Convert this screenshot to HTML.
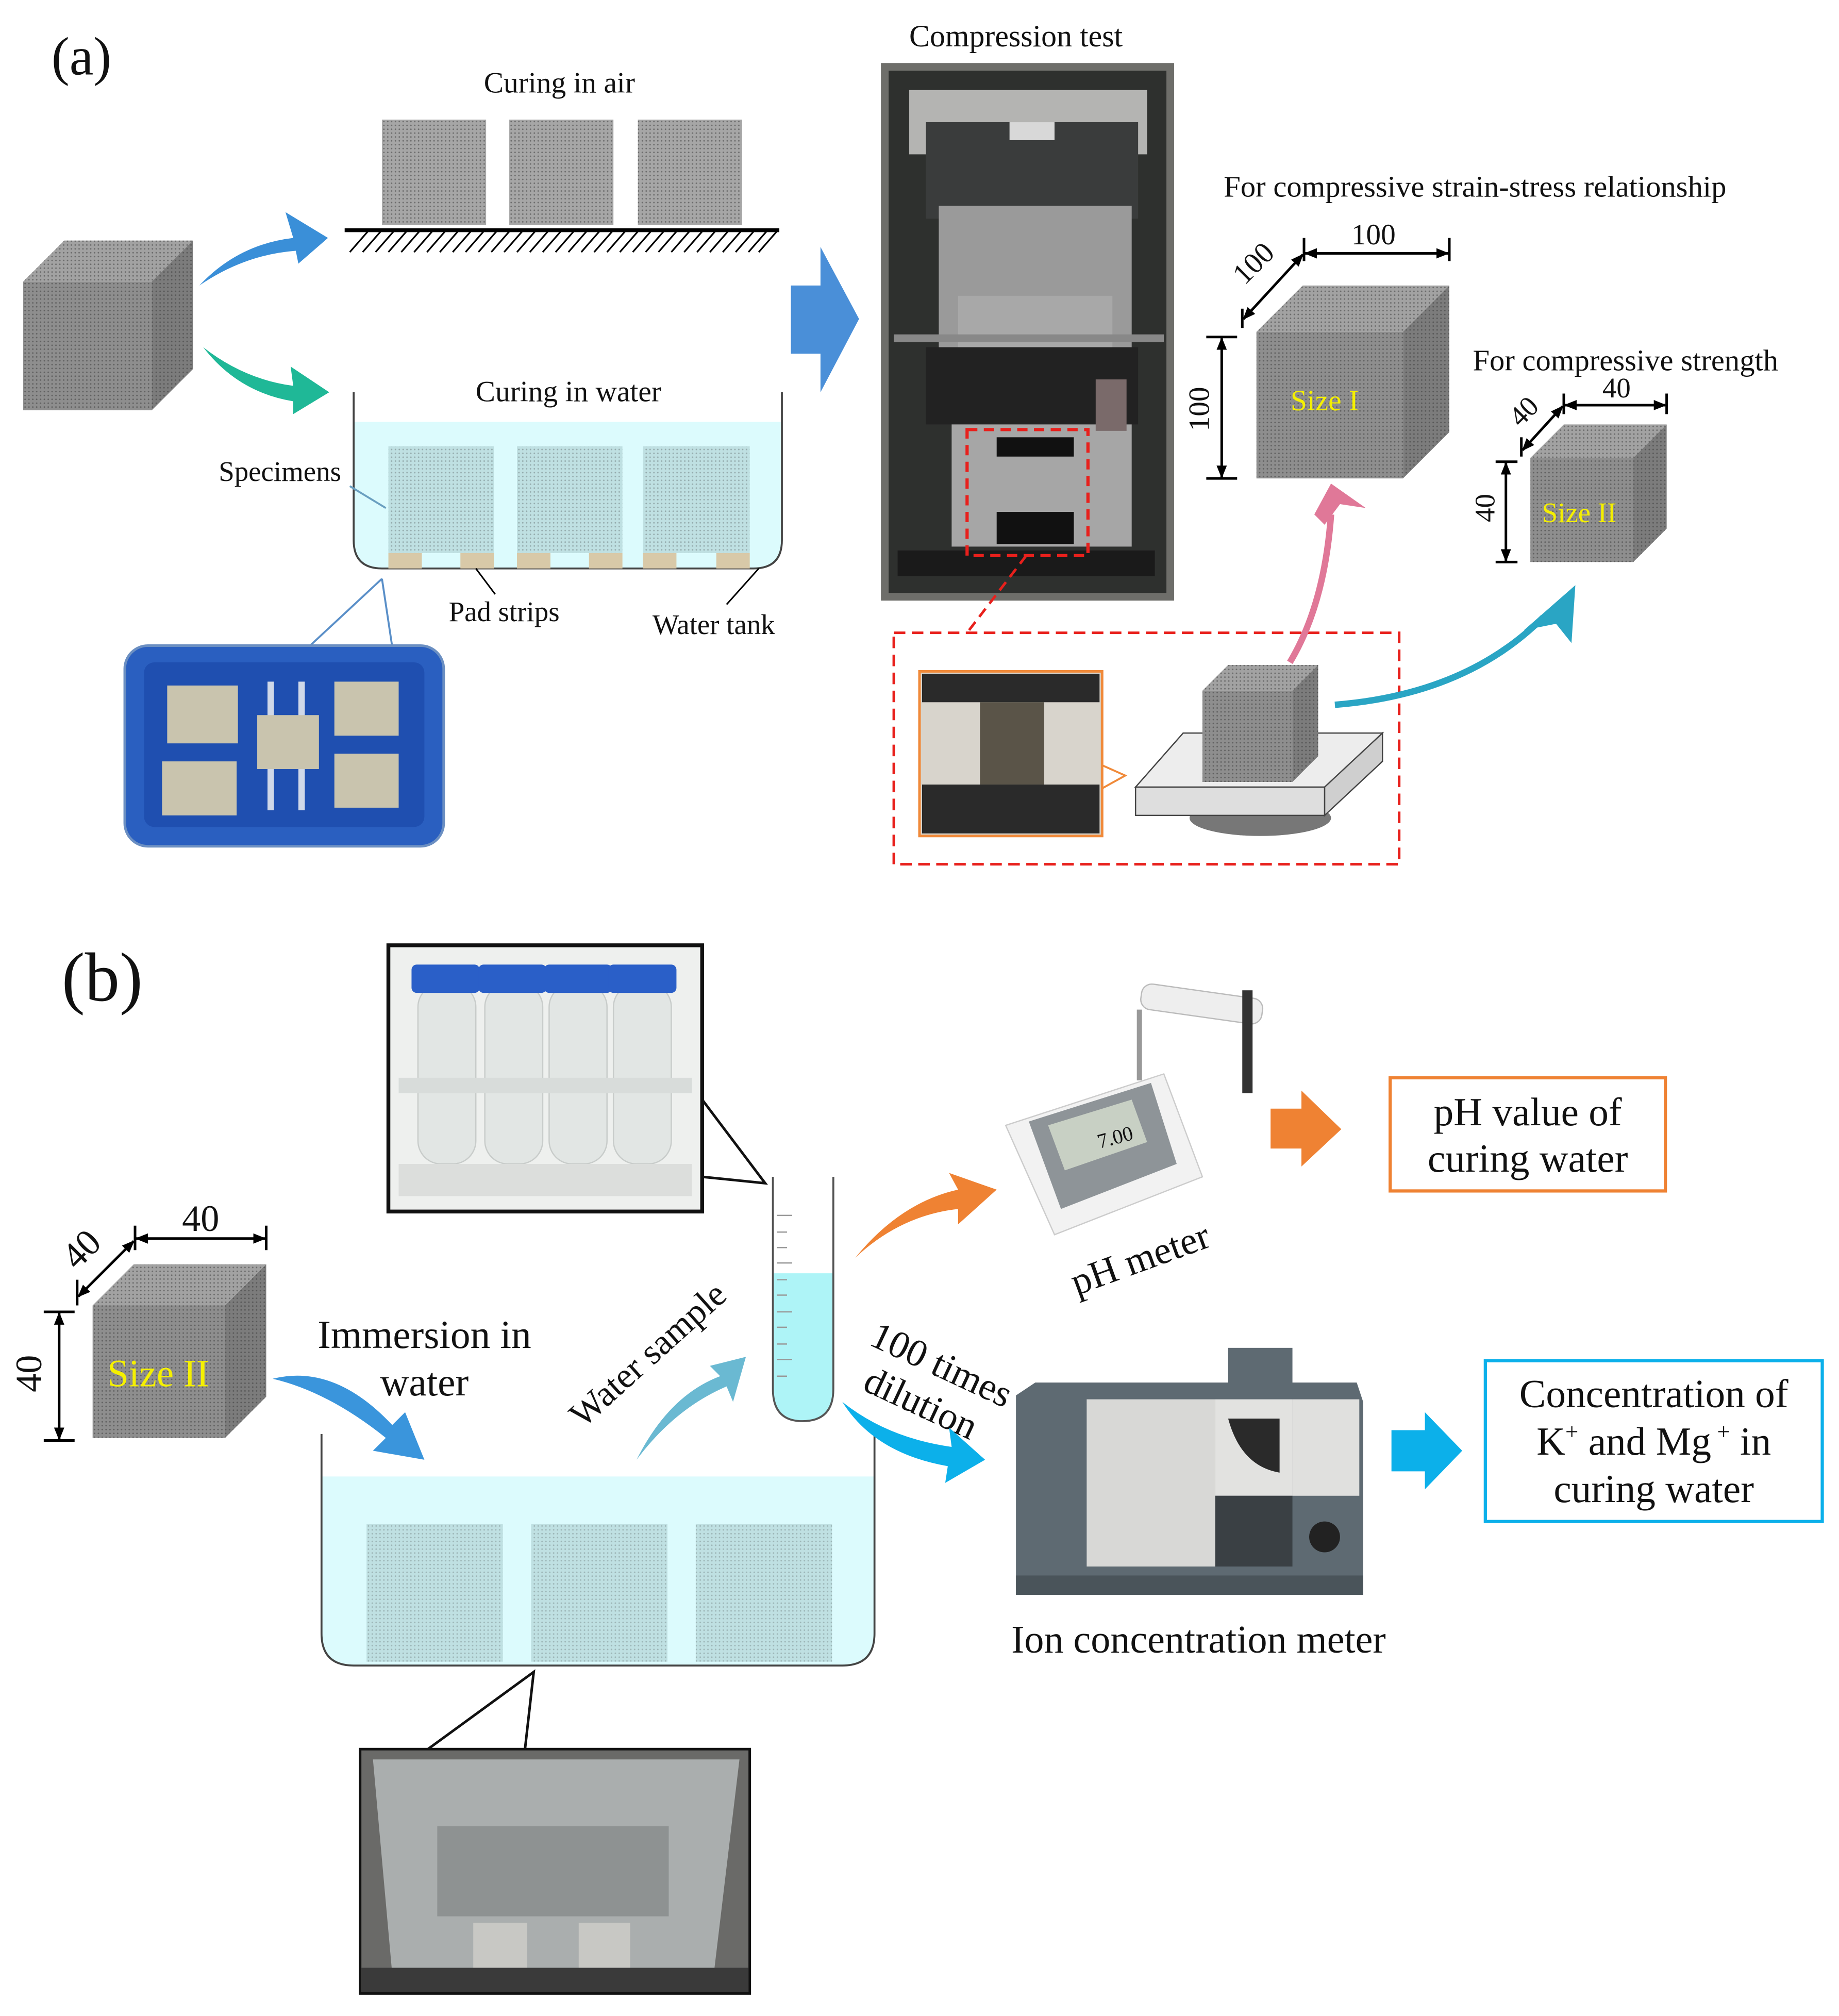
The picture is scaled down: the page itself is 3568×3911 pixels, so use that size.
<!DOCTYPE html>
<html><head><meta charset="utf-8"><style>
html,body{margin:0;padding:0;background:#fff}
svg{display:block}
text{font-family:"Liberation Serif",serif;fill:#111}
</style></head><body>
<svg width="3568" height="3911" viewBox="0 0 1430 1567.5" xmlns="http://www.w3.org/2000/svg" font-family="Liberation Serif, serif">
<defs>
<pattern id="dots" width="3" height="3" patternUnits="userSpaceOnUse"><rect width="3" height="3" fill="none"/><circle cx="1.5" cy="1.5" r="0.6" fill="#333" opacity="0.5"/></pattern>
<marker id="ah" markerWidth="10" markerHeight="10" refX="9" refY="5" orient="auto-start-reverse" markerUnits="userSpaceOnUse"><path d="M0,1 L10,5 L0,9 Z" fill="#000"/></marker>
</defs>

<text x="40" y="58" font-size="42">(a)</text>

<!-- left cube -->
<g>
<polygon points="18,219 50,187 150,187 118,219" fill="#a2a2a2"/>
<polygon points="118,219 150,187 150,287 118,319" fill="#7c7c7c"/>
<rect x="18" y="219" width="100" height="100" fill="#8e8e8e"/>
<polygon points="18,219 50,187 150,187 150,287 118,319 18,319" fill="url(#dots)"/>
</g>

<path d="M155,222 Q185,190 228,185 L222,165 L255,185 L232,205 L230,195 Q190,198 155,222 Z" fill="#3a8fd8"/>
<path d="M158,270 Q190,295 228,300 L226,285 L256,305 L228,322 L228,312 Q185,305 158,270 Z" fill="#1fb897"/>

<text x="435" y="72" font-size="23" text-anchor="middle">Curing in air</text>
<rect x="297" y="93" width="81" height="82" fill="#a6a6a6"/><rect x="297" y="93" width="81" height="82" fill="url(#dots)"/>
<rect x="396" y="93" width="81" height="82" fill="#a6a6a6"/><rect x="396" y="93" width="81" height="82" fill="url(#dots)"/>
<rect x="496" y="93" width="81" height="82" fill="#a6a6a6"/><rect x="496" y="93" width="81" height="82" fill="url(#dots)"/>
<line x1="268" y1="179" x2="606" y2="179" stroke="#000" stroke-width="3"/>
<g stroke="#000" stroke-width="1.3">
<path d="M272,196 l14,-16 M282,196 l14,-16 M292,196 l14,-16 M302,196 l14,-16 M312,196 l14,-16 M322,196 l14,-16 M332,196 l14,-16 M342,196 l14,-16 M352,196 l14,-16 M362,196 l14,-16 M372,196 l14,-16 M382,196 l14,-16 M392,196 l14,-16 M402,196 l14,-16 M412,196 l14,-16 M422,196 l14,-16 M432,196 l14,-16 M442,196 l14,-16 M452,196 l14,-16 M462,196 l14,-16 M472,196 l14,-16 M482,196 l14,-16 M492,196 l14,-16 M502,196 l14,-16 M512,196 l14,-16 M522,196 l14,-16 M532,196 l14,-16 M542,196 l14,-16 M552,196 l14,-16 M562,196 l14,-16 M572,196 l14,-16 M582,196 l14,-16 M590,196 l14,-16"/>
</g>

<text x="442" y="312" font-size="23" text-anchor="middle">Curing in water</text>
<path d="M275,328 L608,328 L608,420 Q608,442 586,442 L297,442 Q275,442 275,420 Z" fill="#dcfbfd"/>
<path d="M275,305 L275,420 Q275,442 297,442 L586,442 Q608,442 608,420 L608,305" fill="none" stroke="#444" stroke-width="1.5"/>
<rect x="302" y="347" width="82" height="83" fill="#bfe0e2"/><rect x="302" y="347" width="82" height="83" fill="url(#dots)" opacity="0.6"/>
<rect x="402" y="347" width="82" height="83" fill="#bfe0e2"/><rect x="402" y="347" width="82" height="83" fill="url(#dots)" opacity="0.6"/>
<rect x="500" y="347" width="83" height="83" fill="#bfe0e2"/><rect x="500" y="347" width="83" height="83" fill="url(#dots)" opacity="0.6"/>
<g fill="#d8c9a8"><rect x="302" y="430" width="26" height="12"/><rect x="358" y="430" width="26" height="12"/><rect x="402" y="430" width="26" height="12"/><rect x="458" y="430" width="26" height="12"/><rect x="500" y="430" width="26" height="12"/><rect x="557" y="430" width="26" height="12"/></g>
<text x="170" y="374" font-size="22">Specimens</text>
<line x1="272" y1="378" x2="300" y2="395" stroke="#6a9fc0" stroke-width="1.5"/>
<line x1="370" y1="442" x2="385" y2="462" stroke="#000" stroke-width="1.2"/>
<text x="392" y="483" font-size="22" text-anchor="middle">Pad strips</text>
<line x1="590" y1="442" x2="565" y2="470" stroke="#000" stroke-width="1.2"/>
<text x="555" y="493" font-size="22" text-anchor="middle">Water tank</text>

<line x1="240" y1="503" x2="297" y2="450" stroke="#5a8fc8" stroke-width="1.5"/>
<line x1="305" y1="503" x2="297" y2="450" stroke="#5a8fc8" stroke-width="1.5"/>
<rect x="97" y="502" width="248" height="156" rx="18" fill="#2a5fc0" stroke="#6b8fc2" stroke-width="2"/>
<rect x="112" y="515" width="218" height="128" rx="8" fill="#1f4fb0"/>
<rect x="208" y="530" width="5" height="100" fill="#cfd8e8"/><rect x="232" y="530" width="5" height="100" fill="#cfd8e8"/>
<g fill="#c9c4ae"><rect x="130" y="533" width="55" height="45"/><rect x="200" y="556" width="48" height="42"/><rect x="260" y="530" width="50" height="42"/><rect x="126" y="592" width="58" height="42"/><rect x="260" y="586" width="50" height="42"/></g>

<polygon points="615,222 638,222 638,192 668,248 638,305 638,275 615,275" fill="#4a8fd8"/>

<text x="790" y="36" font-size="24" text-anchor="middle">Compression test</text>
<rect x="688" y="52" width="222" height="412" fill="#2e302e"/>
<rect x="688" y="52" width="222" height="412" fill="none" stroke="#6e6e6a" stroke-width="6"/>
<rect x="707" y="70" width="185" height="50" fill="#b4b4b2"/>
<rect x="720" y="95" width="165" height="75" fill="#3a3c3c"/>
<rect x="785" y="95" width="35" height="14" fill="#d8d8d8"/>
<rect x="730" y="160" width="150" height="110" fill="#9a9a9a"/>
<rect x="745" y="230" width="120" height="40" fill="#a8a8a8"/>
<rect x="695" y="260" width="210" height="6" fill="#888"/>
<rect x="720" y="270" width="165" height="60" fill="#222"/>
<rect x="740" y="330" width="140" height="95" fill="#a6a6a6"/>
<rect x="775" y="340" width="60" height="15" fill="#111"/>
<rect x="775" y="398" width="60" height="25" fill="#111"/>
<rect x="852" y="295" width="24" height="40" fill="#7a6a6a"/>
<rect x="698" y="428" width="200" height="20" fill="#1a1a1a"/>
<rect x="752" y="334" width="94" height="98" fill="none" stroke="#e8201c" stroke-width="2.5" stroke-dasharray="8,5"/>
<line x1="798" y1="432" x2="752" y2="492" stroke="#e8201c" stroke-width="2" stroke-dasharray="8,5"/>
<rect x="695" y="492" width="393" height="180" fill="none" stroke="#e8201c" stroke-width="2" stroke-dasharray="9,5"/>

<rect x="715" y="522" width="142" height="128" fill="#d8d4cc" stroke="#f08a3a" stroke-width="2"/>
<rect x="717" y="524" width="138" height="22" fill="#2a2a2a"/>
<rect x="717" y="610" width="138" height="38" fill="#2a2a2a"/>
<rect x="762" y="546" width="50" height="64" fill="#5a5448"/>
<polyline points="857,595 875,603 857,613" fill="none" stroke="#f08a3a" stroke-width="1.5"/>

<ellipse cx="980" cy="636" rx="55" ry="14" fill="#777"/>
<polygon points="883,612 920,570 1075,570 1030,612" fill="#ededed" stroke="#444" stroke-width="1"/>
<polygon points="1030,612 1075,570 1075,592 1030,634" fill="#cfcfcf" stroke="#444" stroke-width="1"/>
<rect x="883" y="612" width="147" height="22" fill="#dedede" stroke="#444" stroke-width="1"/>
<polygon points="935,537 955,517 1025,517 1005,537" fill="#a2a2a2"/>
<polygon points="1005,537 1025,517 1025,588 1005,608" fill="#7c7c7c"/>
<rect x="935" y="537" width="70" height="71" fill="#8e8e8e"/>
<polygon points="935,537 955,517 1025,517 1025,588 1005,608 935,608" fill="url(#dots)"/>

<path d="M1003,515 Q1030,470 1035,400" fill="none" stroke="#e07898" stroke-width="5"/>
<polygon points="1035,376 1062,395 1042,392 1030,408 1022,400" fill="#e07898"/>
<path d="M1038,548 Q1140,540 1200,480" fill="none" stroke="#2aa5c4" stroke-width="5"/>
<polygon points="1225,455 1222,500 1210,485 1185,490" fill="#2aa5c4"/>

<text x="1147" y="153" font-size="23.5" text-anchor="middle">For compressive strain-stress relationship</text>
<polygon points="977,258 1013,222 1127,222 1091,258" fill="#a2a2a2"/>
<polygon points="1091,258 1127,222 1127,336 1091,372" fill="#7c7c7c"/>
<rect x="977" y="258" width="114" height="114" fill="#8e8e8e"/>
<polygon points="977,258 1013,222 1127,222 1127,336 1091,372 977,372" fill="url(#dots)"/>
<text x="1030" y="319" font-size="23" text-anchor="middle" style="fill:#f5f000">Size I</text>
<line x1="1014" y1="185" x2="1014" y2="203" stroke="#000" stroke-width="2"/>
<line x1="1127" y1="185" x2="1127" y2="203" stroke="#000" stroke-width="2"/>
<line x1="1015" y1="197" x2="1126" y2="197" stroke="#000" stroke-width="2" marker-start="url(#ah)" marker-end="url(#ah)"/>
<text x="1068" y="190" font-size="23" text-anchor="middle">100</text>
<line x1="966" y1="240" x2="966" y2="255" stroke="#000" stroke-width="2"/>
<line x1="1013" y1="198" x2="967" y2="248" stroke="#000" stroke-width="2" marker-start="url(#ah)" marker-end="url(#ah)"/>
<text x="980" y="210" font-size="23" text-anchor="middle" transform="rotate(-45 980 210)">100</text>
<line x1="938" y1="262" x2="962" y2="262" stroke="#000" stroke-width="2"/>
<line x1="938" y1="372" x2="962" y2="372" stroke="#000" stroke-width="2"/>
<line x1="950" y1="263" x2="950" y2="371" stroke="#000" stroke-width="2" marker-start="url(#ah)" marker-end="url(#ah)"/>
<text x="940" y="318" font-size="23" text-anchor="middle" transform="rotate(-90 940 318)">100</text>

<text x="1264" y="288" font-size="23.5" text-anchor="middle">For compressive strength</text>
<polygon points="1190,356 1216,330 1296,330 1270,356" fill="#a2a2a2"/>
<polygon points="1270,356 1296,330 1296,411 1270,437" fill="#7c7c7c"/>
<rect x="1190" y="356" width="80" height="81" fill="#8e8e8e"/>
<polygon points="1190,356 1216,330 1296,330 1296,411 1270,437 1190,437" fill="url(#dots)"/>
<text x="1228" y="406" font-size="22" text-anchor="middle" style="fill:#f5f000">Size II</text>
<line x1="1216" y1="306" x2="1216" y2="322" stroke="#000" stroke-width="2"/>
<line x1="1296" y1="306" x2="1296" y2="322" stroke="#000" stroke-width="2"/>
<line x1="1217" y1="315" x2="1295" y2="315" stroke="#000" stroke-width="2" marker-start="url(#ah)" marker-end="url(#ah)"/>
<text x="1257" y="309" font-size="22" text-anchor="middle">40</text>
<line x1="1183" y1="340" x2="1183" y2="355" stroke="#000" stroke-width="2"/>
<line x1="1215" y1="316" x2="1184" y2="350" stroke="#000" stroke-width="2" marker-start="url(#ah)" marker-end="url(#ah)"/>
<text x="1190" y="325" font-size="22" text-anchor="middle" transform="rotate(-45 1190 325)">40</text>
<line x1="1163" y1="359" x2="1180" y2="359" stroke="#000" stroke-width="2"/>
<line x1="1163" y1="437" x2="1180" y2="437" stroke="#000" stroke-width="2"/>
<line x1="1171" y1="360" x2="1171" y2="436" stroke="#000" stroke-width="2" marker-start="url(#ah)" marker-end="url(#ah)"/>
<text x="1162" y="395" font-size="22" text-anchor="middle" transform="rotate(-90 1162 395)">40</text>

<text x="48" y="778" font-size="54">(b)</text>

<rect x="302" y="735" width="244" height="207" fill="#eef0ee" stroke="#111" stroke-width="3"/>
<g fill="#e2e6e4" stroke="#c8ccca">
<rect x="325" y="765" width="45" height="140" rx="18"/><rect x="377" y="765" width="45" height="140" rx="18"/><rect x="427" y="765" width="45" height="140" rx="18"/><rect x="477" y="765" width="45" height="140" rx="18"/></g>
<g fill="#2a5fc8"><rect x="320" y="750" width="53" height="22" rx="4"/><rect x="372" y="750" width="53" height="22" rx="4"/><rect x="423" y="750" width="53" height="22" rx="4"/><rect x="473" y="750" width="53" height="22" rx="4"/></g>
<rect x="310" y="838" width="228" height="12" fill="#d8dcda"/>
<rect x="310" y="905" width="228" height="25" fill="#dcdedc"/>
<polyline points="546,855 595,920 546,915" fill="none" stroke="#111" stroke-width="2"/>

<path d="M601,990 L648,990 L648,1080 Q648,1105 624,1105 Q601,1105 601,1080 Z" fill="#aef4f7"/>
<path d="M601,915 L601,1080 Q601,1105 624,1105 Q648,1105 648,1080 L648,915" fill="none" stroke="#555" stroke-width="1.5"/>
<g stroke="#999" stroke-width="1"><path d="M604,945h12 M604,958h8 M604,970h8 M604,982h12 M604,995h8 M604,1007h8 M604,1020h12 M604,1032h8 M604,1045h8 M604,1057h12 M604,1070h8"/></g>

<polygon points="72,1015 104,983 207,983 175,1015" fill="#a2a2a2"/>
<polygon points="175,1015 207,983 207,1086 175,1118" fill="#7c7c7c"/>
<rect x="72" y="1015" width="103" height="103" fill="#8e8e8e"/>
<polygon points="72,1015 104,983 207,983 207,1086 175,1118 72,1118" fill="url(#dots)"/>
<text x="123" y="1078" font-size="30" text-anchor="middle" style="fill:#f5f000">Size II</text>
<line x1="105" y1="953" x2="105" y2="972" stroke="#000" stroke-width="2"/>
<line x1="207" y1="953" x2="207" y2="972" stroke="#000" stroke-width="2"/>
<line x1="106" y1="963" x2="206" y2="963" stroke="#000" stroke-width="2" marker-start="url(#ah)" marker-end="url(#ah)"/>
<text x="156" y="957" font-size="29" text-anchor="middle">40</text>
<line x1="60" y1="995" x2="60" y2="1015" stroke="#000" stroke-width="2"/>
<line x1="104" y1="965" x2="61" y2="1008" stroke="#000" stroke-width="2" marker-start="url(#ah)" marker-end="url(#ah)"/>
<text x="70" y="978" font-size="29" text-anchor="middle" transform="rotate(-45 70 978)">40</text>
<line x1="34" y1="1020" x2="58" y2="1020" stroke="#000" stroke-width="2"/>
<line x1="34" y1="1120" x2="58" y2="1120" stroke="#000" stroke-width="2"/>
<line x1="46" y1="1021" x2="46" y2="1119" stroke="#000" stroke-width="2" marker-start="url(#ah)" marker-end="url(#ah)"/>
<text x="32" y="1068" font-size="29" text-anchor="middle" transform="rotate(-90 32 1068)">40</text>

<text x="330" y="1048" font-size="31" text-anchor="middle">Immersion in</text>
<text x="330" y="1085" font-size="31" text-anchor="middle">water</text>
<path d="M212,1072 Q260,1060 305,1108 L315,1098 L330,1135 L290,1128 L300,1118 Q255,1082 212,1072 Z" fill="#3a95dc"/>

<path d="M250,1148 L680,1148 L680,1270 Q680,1295 655,1295 L275,1295 Q250,1295 250,1270 Z" fill="#dcfbfd"/>
<path d="M250,1115 L250,1270 Q250,1295 275,1295 L655,1295 Q680,1295 680,1270 L680,1115" fill="none" stroke="#444" stroke-width="1.5"/>
<rect x="285" y="1185" width="106" height="107" fill="#bfe0e2"/><rect x="285" y="1185" width="106" height="107" fill="url(#dots)" opacity="0.5"/>
<rect x="413" y="1185" width="106" height="107" fill="#bfe0e2"/><rect x="413" y="1185" width="106" height="107" fill="url(#dots)" opacity="0.5"/>
<rect x="541" y="1185" width="106" height="107" fill="#bfe0e2"/><rect x="541" y="1185" width="106" height="107" fill="url(#dots)" opacity="0.5"/>

<text x="510" y="1060" font-size="28" text-anchor="middle" transform="rotate(-42 510 1060)">Water sample</text>
<path d="M495,1135 Q520,1085 560,1070 L552,1062 L580,1055 L570,1090 L565,1078 Q525,1095 495,1135 Z" fill="#6ab9d2"/>

<polyline points="330,1362 415,1300 408,1362" fill="none" stroke="#111" stroke-width="2"/>
<rect x="280" y="1360" width="303" height="190" fill="#6a6a68" stroke="#111" stroke-width="2"/>
<path d="M290,1368 L575,1368 L555,1535 L305,1535 Z" fill="#aaaeae"/>
<rect x="340" y="1420" width="180" height="70" fill="#8e9292"/>
<rect x="368" y="1495" width="42" height="48" fill="#c8c8c4"/>
<rect x="450" y="1495" width="40" height="48" fill="#c8c8c4"/>
<rect x="281" y="1530" width="301" height="19" fill="#3a3a3a"/>

<path d="M665,978 Q700,935 745,925 L738,912 L775,925 L745,952 L745,940 Q700,945 665,978 Z" fill="#ef8233"/>
<polygon points="782,875 905,835 935,915 820,960" fill="#f2f2f2" stroke="#ccc"/>
<polygon points="800,872 895,842 915,905 825,940" fill="#8e9498"/>
<polygon points="815,875 880,855 892,888 828,910" fill="#c8d0c4"/>
<text x="855" y="893" font-size="16" transform="rotate(-15 855 893)">7.00</text>
<rect x="887" y="770" width="95" height="20" rx="8" fill="#eee" stroke="#bbb" transform="rotate(8 930 780)"/>
<rect x="884" y="785" width="4" height="55" fill="#999"/>
<rect x="966" y="770" width="8" height="80" fill="#333"/>
<text x="890" y="988" font-size="30" text-anchor="middle" transform="rotate(-20 890 988)">pH meter</text>
<polygon points="988,862 1012,862 1012,848 1043,878 1012,907 1012,893 988,893" fill="#ef8233"/>
<rect x="1081" y="838" width="214" height="88" fill="#fff" stroke="#ef8233" stroke-width="2.5"/>
<text x="1188" y="875" font-size="31" text-anchor="middle">pH value of</text>
<text x="1188" y="911" font-size="31" text-anchor="middle">curing water</text>

<text x="728" y="1070" font-size="30" text-anchor="middle" transform="rotate(25 728 1070)">100 times</text>
<text x="712" y="1100" font-size="30" text-anchor="middle" transform="rotate(25 712 1100)">dilution</text>
<path d="M655,1090 Q690,1118 740,1125 L738,1110 L766,1135 L735,1153 L737,1140 Q680,1130 655,1090 Z" fill="#0cb0ea"/>

<rect x="955" y="1048" width="50" height="45" fill="#5e6a72"/>
<polygon points="790,1085 805,1075 1055,1075 1060,1090 1060,1240 790,1240" fill="#5e6a72"/>
<rect x="845" y="1088" width="100" height="130" fill="#d8d8d6"/>
<rect x="945" y="1088" width="60" height="75" fill="#e2e2e0"/>
<path d="M955,1103 L995,1103 L995,1145 Q965,1140 955,1103 Z" fill="#2a2a2a"/>
<rect x="1005" y="1088" width="52" height="75" fill="#e0e0de"/>
<rect x="945" y="1163" width="60" height="55" fill="#3a4044"/>
<circle cx="1030" cy="1195" r="12" fill="#222"/>
<rect x="790" y="1225" width="270" height="15" fill="#4a545a"/>
<text x="932" y="1285" font-size="30.5" text-anchor="middle">Ion concentration meter</text>

<polygon points="1082,1112 1108,1112 1108,1098 1137,1128 1108,1158 1108,1144 1082,1144" fill="#0cb0ea"/>
<rect x="1155" y="1058" width="262" height="125" fill="#fff" stroke="#0cb0ea" stroke-width="2.5"/>
<text x="1286" y="1094" font-size="31" text-anchor="middle">Concentration of</text>
<text x="1286" y="1131" font-size="31" text-anchor="middle">K<tspan font-size="18" dy="-12">+</tspan><tspan dy="12"> and Mg</tspan><tspan font-size="18" dy="-12"> +</tspan><tspan dy="12"> in</tspan></text>
<text x="1286" y="1168" font-size="31" text-anchor="middle">curing water</text>
</svg>
</body></html>
